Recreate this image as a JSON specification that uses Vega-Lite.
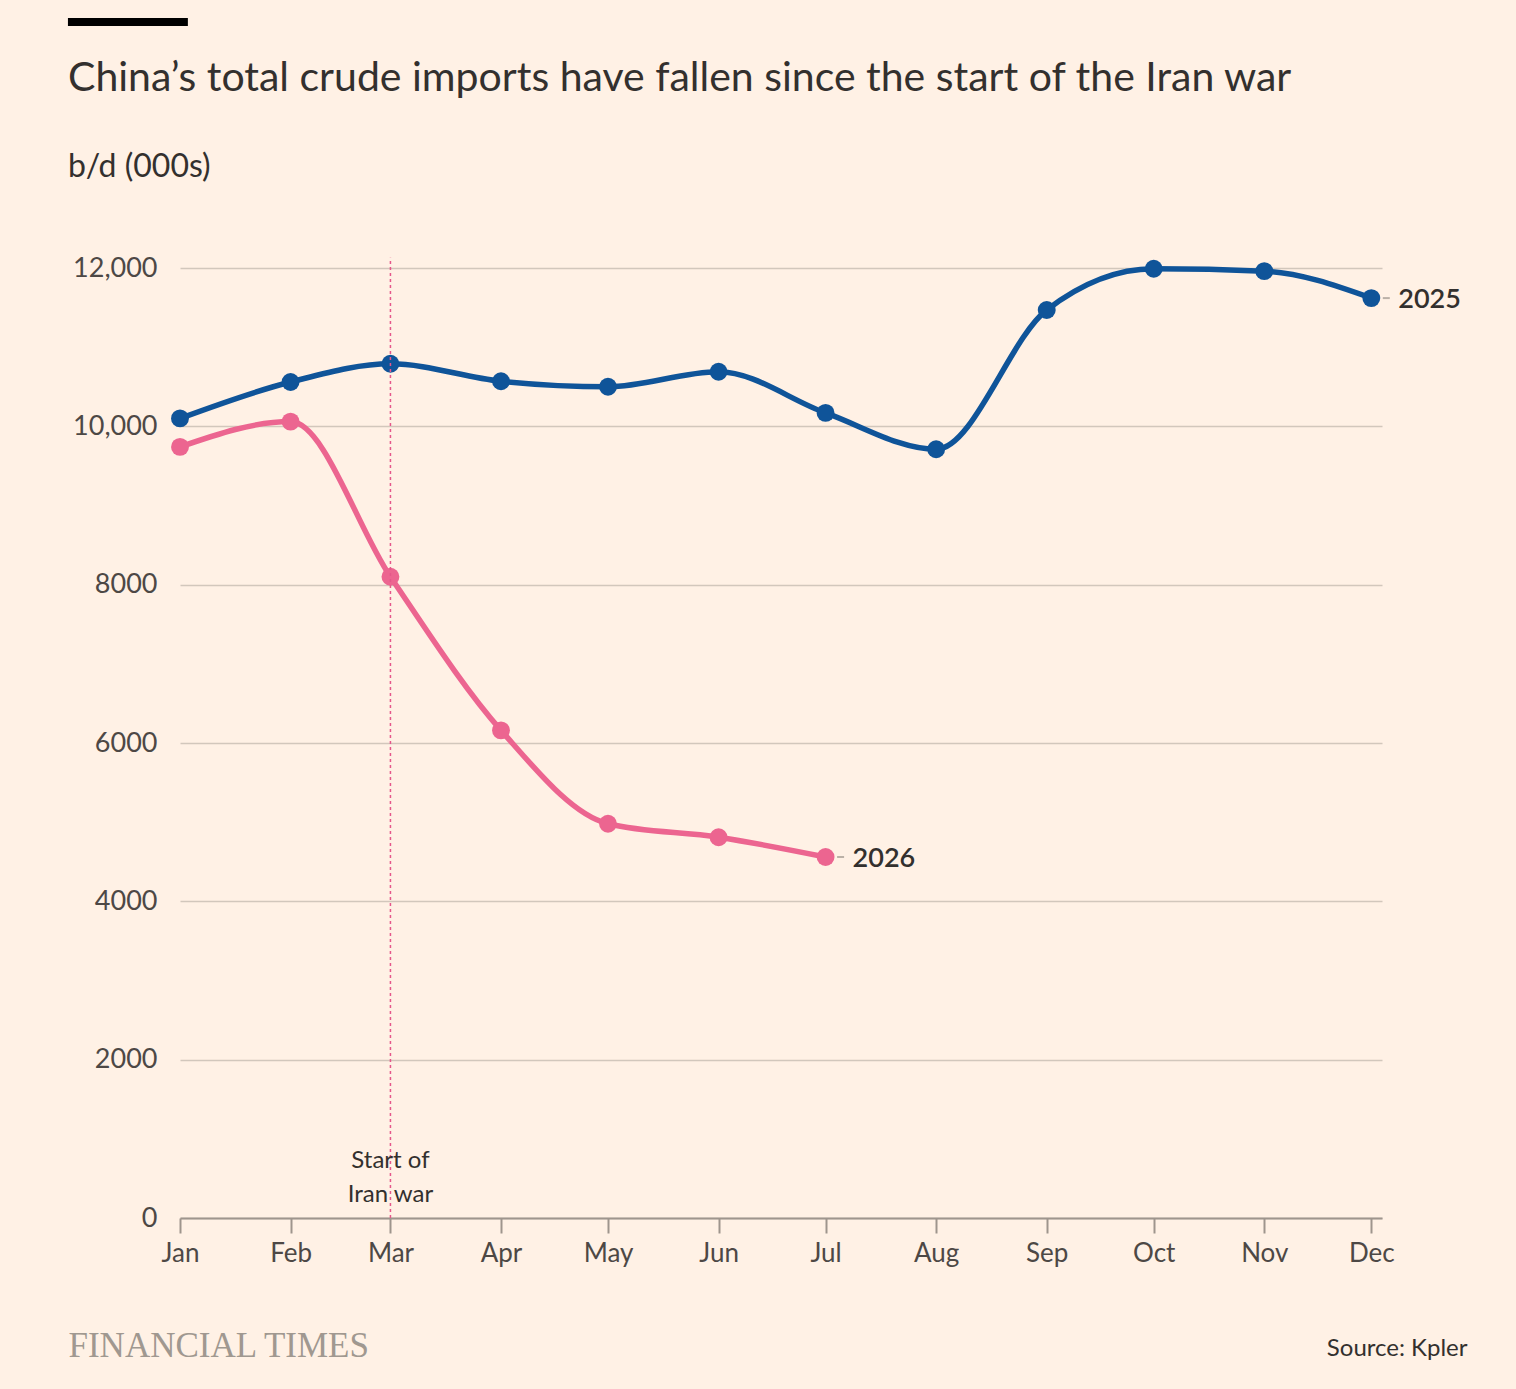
{
  "$schema": "https://vega.github.io/schema/vega-lite/v6.json",
  "width": 1202,
  "height": 950,
  "autosize": {"type": "none"},
  "padding": {"left": 180, "top": 268, "right": 134, "bottom": 171},
  "background": "#FFF1E5",
  "title": {
    "text": "China’s total crude imports have fallen since the start of the Iran war",
    "subtitle": "b/d (000s)",
    "anchor": "start",
    "frame": "group",
    "dx": -112,
    "offset": -166,
    "font": "Lato",
    "fontSize": 41,
    "fontWeight": "normal",
    "color": "#33302E",
    "subtitleFont": "Lato",
    "subtitleFontSize": 32,
    "subtitleColor": "#33302E",
    "subtitlePadding": 52
  },
  "config": {"view": {"stroke": null}, "font": "Lato"},
  "data": {
    "values": [
      {"month": "2025-01-01", "series": "2025", "value": 10100},
      {"month": "2025-02-01", "series": "2025", "value": 10560},
      {"month": "2025-03-01", "series": "2025", "value": 10790},
      {"month": "2025-04-01", "series": "2025", "value": 10570},
      {"month": "2025-05-01", "series": "2025", "value": 10500},
      {"month": "2025-06-01", "series": "2025", "value": 10690},
      {"month": "2025-07-01", "series": "2025", "value": 10170},
      {"month": "2025-08-01", "series": "2025", "value": 9710},
      {"month": "2025-09-01", "series": "2025", "value": 11470},
      {"month": "2025-10-01", "series": "2025", "value": 11990},
      {"month": "2025-11-01", "series": "2025", "value": 11960},
      {"month": "2025-12-01", "series": "2025", "value": 11620},
      {"month": "2025-01-01", "series": "2026", "value": 9740},
      {"month": "2025-02-01", "series": "2026", "value": 10060},
      {"month": "2025-03-01", "series": "2026", "value": 8100},
      {"month": "2025-04-01", "series": "2026", "value": 6160},
      {"month": "2025-05-01", "series": "2026", "value": 4980},
      {"month": "2025-06-01", "series": "2026", "value": 4810},
      {"month": "2025-07-01", "series": "2026", "value": 4560}
    ]
  },
  "layer": [
    {
      "mark": {"type": "line", "interpolate": "monotone", "strokeWidth": 5.5},
      "encoding": {
        "x": {
          "field": "month",
          "type": "temporal",
          "scale": {
            "type": "utc",
            "domain": [
              {"year": 2025, "month": 1, "date": 1, "utc": true},
              {"year": 2025, "month": 12, "date": 4, "utc": true}
            ]
          },
          "axis": {
            "title": "Source: Kpler",
            "titleX": 1287,
            "titleY": 130,
            "titleAlign": "right",
            "titleBaseline": "middle",
            "titleFontSize": 24,
            "titleFontWeight": "normal",
            "titleColor": "#33302E",
            "format": "%b",
            "tickCount": {"interval": "month", "step": 1},
            "labelFlush": false,
            "labelFontSize": 26,
            "labelColor": "#4D4845",
            "labelPadding": 7,
            "tickSize": 15,
            "tickWidth": 2,
            "tickColor": "#9E958D",
            "domainColor": "#9E958D",
            "domainWidth": 2,
            "grid": false
          }
        },
        "y": {
          "field": "value",
          "type": "quantitative",
          "scale": {"domain": [0, 12000]},
          "axis": {
            "title": "FINANCIAL TIMES",
            "titleAngle": 0,
            "titleX": -112,
            "titleY": 1077,
            "titleAlign": "left",
            "titleBaseline": "middle",
            "titleFont": "Liberation Serif",
            "titleFontSize": 35,
            "titleFontWeight": "normal",
            "titleColor": "#A09890",
            "values": [0, 2000, 4000, 6000, 8000, 10000, 12000],
            "labelExpr": "datum.value >= 10000 ? format(datum.value, ',') : format(datum.value, 'd')",
            "domain": false,
            "ticks": false,
            "gridColor": "#D2C7BC",
            "gridWidth": 1.5,
            "labelFontSize": 27,
            "labelColor": "#4D4845",
            "labelPadding": 23
          }
        },
        "color": {
          "field": "series",
          "type": "nominal",
          "scale": {"domain": ["2025", "2026"], "range": ["#0F5499", "#EC6590"]},
          "legend": null
        }
      }
    },
    {
      "mark": {"type": "circle", "size": 320, "opacity": 1},
      "encoding": {
        "x": {"field": "month", "type": "temporal"},
        "y": {"field": "value", "type": "quantitative"},
        "color": {"field": "series", "type": "nominal"}
      }
    },
    {
      "data": {"values": [{"month": "2025-03-01", "note": "Start of\nIran war"}]},
      "mark": {"type": "rule", "color": "#E5588A", "strokeWidth": 1.5, "strokeDash": [3, 3]},
      "encoding": {
        "x": {"field": "month", "type": "temporal"},
        "y": {"datum": 0},
        "y2": {"datum": 12130}
      }
    },
    {
      "data": {"values": [{"month": "2025-03-01", "note": "Start of\nIran war"}]},
      "mark": {
        "type": "text",
        "lineBreak": "\n",
        "lineHeight": 34,
        "fontSize": 24,
        "color": "#33302E",
        "align": "center",
        "baseline": "middle"
      },
      "encoding": {
        "x": {"field": "month", "type": "temporal"},
        "y": {"datum": 720},
        "text": {"field": "note"}
      }
    },
    {
      "transform": [
        {
          "window": [{"op": "rank", "as": "r"}],
          "sort": [{"field": "month", "order": "descending"}],
          "groupby": ["series"]
        },
        {"filter": "datum.r == 1"}
      ],
      "layer": [
        {
          "mark": {
            "type": "tick",
            "orient": "horizontal",
            "color": "#9E958D",
            "thickness": 2,
            "size": 7,
            "xOffset": 15
          },
          "encoding": {
            "x": {"field": "month", "type": "temporal"},
            "y": {"field": "value", "type": "quantitative"}
          }
        },
        {
          "mark": {
            "type": "text",
            "align": "left",
            "baseline": "middle",
            "dx": 27,
            "dy": 2,
            "fontSize": 27,
            "fontWeight": 600,
            "color": "#33302E"
          },
          "encoding": {
            "x": {"field": "month", "type": "temporal"},
            "y": {"field": "value", "type": "quantitative"},
            "text": {"field": "series"}
          }
        }
      ]
    },
    {
      "data": {"values": [{}]},
      "mark": {"type": "rule", "color": "#000000", "strokeWidth": 8, "strokeCap": "butt"},
      "encoding": {
        "x": {"datum": {"year": 2024, "month": 11, "date": 30, "hours": 14, "utc": true}},
        "x2": {"datum": {"year": 2025, "month": 1, "date": 3, "hours": 5, "utc": true}},
        "y": {"datum": 15107}
      }
    }
  ]
}
